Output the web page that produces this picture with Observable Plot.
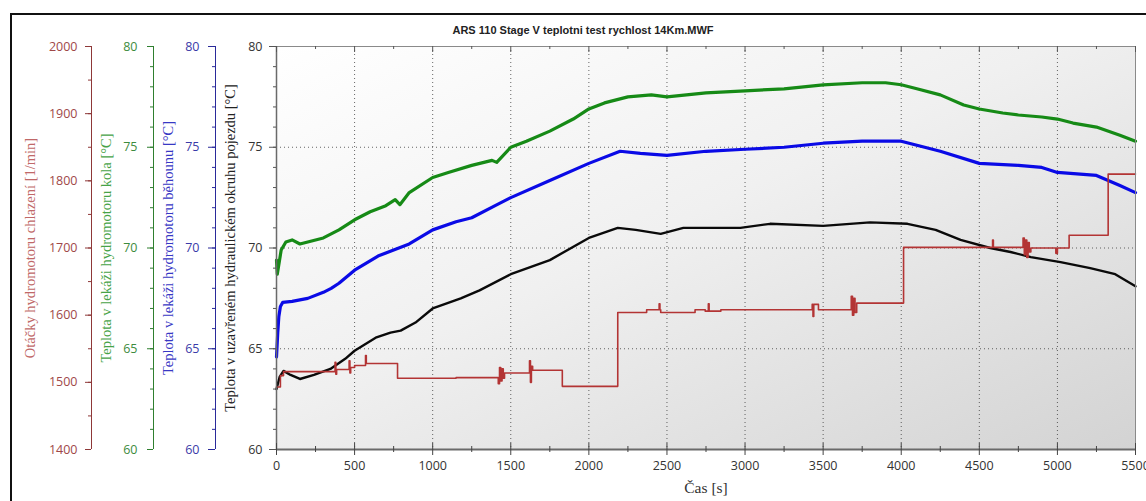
<!DOCTYPE html>
<html><head><meta charset="utf-8">
<script src="https://cdn.jsdelivr.net/npm/d3@7"></script>
<script src="https://cdn.jsdelivr.net/npm/@observablehq/plot@0.6"></script>
<style>
html,body{margin:0;padding:0;background:#fff;overflow:hidden;}
#wrap{position:relative;width:1146px;height:501px;overflow:hidden;background:#fff;}
#border{position:absolute;left:10px;top:13px;width:1160px;height:520px;border:2px solid #111;box-sizing:border-box;}
#title{position:absolute;left:10px;width:1146px;top:24px;text-align:center;font:bold 11px "Liberation Sans",Arial,sans-serif;color:#222;}
#chart{position:absolute;left:0;top:0;}
</style></head><body>
<div id="wrap"><div id="border"></div><div id="chart"></div><div id="title">ARS 110 Stage V teplotni test rychlost 14Km.MWF</div></div>
<script>
// ---- data ----
const greenTime = [0,5,30,60,100,150,200,300,400,500,600,700,760,790,850,1000,1100,1250,1380,1410,1500,1600,1750,1900,2000,2100,2250,2400,2500,2750,3000,3250,3500,3750,3900,4000,4100,4250,4400,4500,4650,4750,4900,5000,5100,5250,5400,5500];
const greenTemp = [69.4,68.7,69.9,70.3,70.4,70.2,70.3,70.5,70.9,71.4,71.8,72.1,72.4,72.15,72.75,73.5,73.75,74.1,74.35,74.25,75.0,75.3,75.8,76.4,76.9,77.2,77.5,77.6,77.5,77.7,77.8,77.9,78.1,78.2,78.2,78.1,77.9,77.6,77.1,76.9,76.7,76.6,76.5,76.4,76.2,76.0,75.6,75.3];

const blueTime = [0,8,15,25,40,100,200,300,350,400,500,650,750,850,1000,1150,1250,1400,1500,1750,2000,2200,2330,2500,2750,3000,3250,3500,3750,4000,4250,4500,4750,4900,5000,5250,5400,5500];
const blueTemp = [64.6,65.8,66.6,67.1,67.3,67.35,67.5,67.8,68.0,68.25,68.9,69.6,69.9,70.2,70.9,71.3,71.5,72.1,72.5,73.35,74.2,74.8,74.7,74.6,74.8,74.9,75.0,75.2,75.3,75.3,74.8,74.2,74.1,74.0,73.75,73.6,73.1,72.75];

const blackTime = [0,20,45,90,150,240,345,440,500,635,730,795,890,1000,1180,1300,1500,1750,2000,2185,2300,2460,2605,2970,3160,3500,3800,4040,4220,4380,4570,4700,4830,5020,5210,5370,5500];
const blackTemp = [63.0,63.6,63.9,63.7,63.5,63.7,64.0,64.5,64.9,65.55,65.8,65.9,66.3,67.0,67.5,67.9,68.7,69.4,70.5,71.0,70.9,70.7,71.0,71.0,71.2,71.1,71.27,71.2,70.9,70.4,70.0,69.8,69.55,69.3,69.0,68.7,68.1];

const redTime = [0,25,45,375,380,385,465,470,475,500,570,575,775,1150,1420,1428,1436,1444,1452,1460,1620,1626,1632,1640,1830,2185,2370,2450,2455,2460,2680,2745,2765,2770,2845,3430,3435,3440,3470,3680,3688,3696,3704,3715,4015,4585,4590,4780,4788,4796,4804,4812,4820,4830,4990,5000,5075,5325,5500];
const redRpm  = [1493,1510,1516,1530,1512,1519,1532,1514,1522,1525,1540,1528,1506,1507,1498,1522,1502,1520,1506,1514,1532,1500,1524,1518,1494,1604,1608,1617,1608,1604,1608,1606,1617,1606,1608,1616,1598,1616,1608,1628,1600,1625,1604,1618,1701,1712,1701,1715,1690,1712,1686,1708,1694,1700,1692,1700,1719,1810,1810];

const xMajor = [0,500,1000,1500,2000,2500,3000,3500,4000,4500,5000,5500];
const xMinor = [250,750,1250,1750,2250,2750,3250,3750,4250,4750,5250];
const tempMajor = [60,65,70,75,80];
const tempMinor = d3.range(60,81,1);
const rpmMajor = [1400,1500,1600,1700,1800,1900,2000];
const rpmMinor = d3.range(1400,2001,50);

// red axis (1400–2000 1/min) shares the plot height with the 60–80 °C scale
const rpmToY = r => 60 + (r - 1400) / 30;
const yToRpm = v => String(Math.round(1400 + (v - 60) * 30));
const plain = d => String(d);

const green = greenTime.map((t,i)=>({t, v: greenTemp[i]}));
const blue = blueTime.map((t,i)=>({t, v: blueTemp[i]}));
const black = blackTime.map((t,i)=>({t, v: blackTemp[i]}));
const red = redTime.map((t,i)=>({t, v: rpmToY(redRpm[i])}));

const C = {
  redAxis:"#8e3838", redText:"#a04848", redTitle:"#c06868", redLine:"#b33434",
  greenAxis:"#2f7f2f", greenText:"#3d8b3d", greenTitle:"#47a347", greenLine:"#168a16",
  blueAxis:"#2a2a9a", blueText:"#3a3aa8", blueTitle:"#3838c4", blueLine:"#0a0ae6",
  axis:"#6a6a6a", text:"#333"
};

const defs = d3.create("svg:defs");
const lg = defs.append("linearGradient").attr("id","bg").attr("x1","0").attr("y1","0").attr("x2","1").attr("y2","1");
lg.append("stop").attr("offset","0%").attr("stop-color","#ffffff");
lg.append("stop").attr("offset","45%").attr("stop-color","#f0f0f0");
lg.append("stop").attr("offset","100%").attr("stop-color","#d3d3d3");

const tickFont = {fontFamily:"Open Sans", fontSize: 12.5};
const titleFont = {fontFamily:"Liberation Serif", fontSize: 14.5, textAnchor:"middle", lineAnchor:"middle"};

function sideAxis(dx, majors, minors, color, textColor, fmt, size, pad){
  return [
    Plot.ruleX([0], {y1:60, y2:80, dx, stroke:color, strokeWidth:1}),
    Plot.axisY({anchor:"left", ticks:minors, tickSize:3, tickFormat:()=>"", dx, stroke:color, label:null}),
    Plot.axisY({anchor:"left", ticks:majors, tickSize:size, tickPadding:pad, tickFormat:fmt, dx, stroke:color, fill:textColor, label:null, ...tickFont})
  ];
}

const plot = Plot.plot({
  width:1146, height:501,
  marginLeft:276, marginRight:11, marginTop:46, marginBottom:52,
  style:{background:"transparent", overflow:"visible"},
  x:{domain:[0,5500]},
  y:{domain:[60,80]},
  marks:[
    () => defs.node(),
    Plot.frame({fill:"url(#bg)"}),
    Plot.gridX({ticks:xMajor.slice(1,-1), stroke:"#333", strokeOpacity:0.75, strokeDasharray:"1,3"}),
    Plot.gridY({ticks:[65,70,75], stroke:"#333", strokeOpacity:0.75, strokeDasharray:"1,3"}),
    Plot.line(green, {x:"t", y:"v", stroke:C.greenLine, strokeWidth:3.2}),
    Plot.line(blue, {x:"t", y:"v", stroke:C.blueLine, strokeWidth:3.2}),
    Plot.line(black, {x:"t", y:"v", stroke:"#0a0a0a", strokeWidth:2.4}),
    Plot.line(red, {x:"t", y:"v", stroke:C.redLine, strokeWidth:1.6, curve:"step-after"}),
    Plot.frame({stroke:"#8a8a8a", strokeWidth:1}),
    Plot.ruleY([60], {stroke:C.axis, strokeWidth:2}),
    Plot.ruleX([0], {stroke:C.axis, strokeWidth:1.5}),
    // inner ticks top / bottom
    Plot.tickX(xMajor, {insetBottom:397, stroke:"#555"}),
    Plot.tickX(xMinor, {insetBottom:400, stroke:"#555"}),
    Plot.tickX(xMajor, {insetTop:397, stroke:"#444"}),
    Plot.tickX(xMinor, {insetTop:400, stroke:"#444"}),
    Plot.axisX({ticks:xMinor, tickSize:3, tickFormat:()=>"", stroke:"#444", label:null}),
    Plot.axisX({ticks:xMajor, tickSize:6, tickPadding:6, tickFormat:plain, stroke:"#444", fill:C.text, label:null, ...tickFont}),
    // main y axis
    Plot.axisY({anchor:"left", ticks:tempMinor, tickSize:3, tickFormat:()=>"", stroke:"#555", label:null}),
    Plot.axisY({anchor:"left", ticks:tempMajor, tickSize:7, tickPadding:7, tickFormat:plain, stroke:"#555", fill:C.text, label:null, ...tickFont}),
    // extra axes
    ...sideAxis(-61, tempMajor, tempMinor, C.blueAxis, C.blueText, plain, 7, 9),
    ...sideAxis(-123, tempMajor, tempMinor, C.greenAxis, C.greenText, plain, 6, 10),
    ...sideAxis(-185, rpmMajor.map(rpmToY), rpmMinor.map(rpmToY), C.redAxis, C.redText, yToRpm, 6, 8),
    // axis titles
    Plot.text(["Teplota v uzavřeném hydraulickém okruhu pojezdu [°C]"], {frameAnchor:"left", rotate:-90, dx:-46, fill:"#222", ...titleFont}),
    Plot.text(["Teplota v lekáži hydromotoru běhounu [°C]"], {frameAnchor:"left", rotate:-90, dx:-108, fill:C.blueTitle, ...titleFont}),
    Plot.text(["Teplota v lekáži hydromotoru kola [°C]"], {frameAnchor:"left", rotate:-90, dx:-170, fill:C.greenTitle, ...titleFont}),
    Plot.text(["Otáčky hydromotoru chlazení [1/min]"], {frameAnchor:"left", rotate:-90, dx:-246, fill:C.redTitle, ...titleFont}),
    Plot.text(["Čas [s]"], {frameAnchor:"bottom", dy:43, fill:"#333", fontFamily:"Liberation Serif", fontSize:15.5})
  ]
});
document.getElementById("chart").appendChild(plot);
</script>
</body></html>
